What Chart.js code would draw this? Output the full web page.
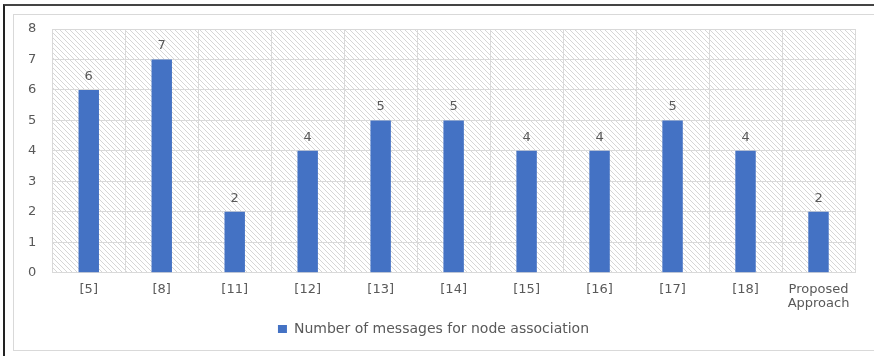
<!DOCTYPE html>
<html>
<head>
<meta charset="utf-8">
<script src="https://cdn.jsdelivr.net/npm/chart.js@4.4.0/dist/chart.umd.min.js"></script>
<style>
  body { margin: 0; background: #fff; }
  #outer { position: absolute; left: 3px; top: 4px; width: 880px; height: 360px;
           border-left: 2px solid #222; border-top: 2px solid #444; }
  #inner { position: absolute; left: 13px; top: 14px; width: 870px; height: 335px;
           border: 1px solid #d9d9d9; }
  #wrap { position: absolute; left: 0; top: 0; width: 874px; height: 356px; }
</style>
</head>
<body>
<div id="outer"></div>
<div id="inner"></div>
<div id="wrap"><canvas id="myChart" width="874" height="356"></canvas></div>
<script>
var categories = ['[5]', '[8]', '[11]', '[12]', '[13]', '[14]', '[15]', '[16]', '[17]', '[18]', ['Proposed', 'Approach']];
var messageCounts = [6, 7, 2, 4, 5, 5, 4, 4, 5, 4, 2];
var yTicks = [0, 1, 2, 3, 4, 5, 6, 7, 8];
var seriesName = 'Number of messages for node association';

var textColor = '#595959';
var fontFamily = '"DejaVu Sans", Verdana, sans-serif';

// diagonal hatch for the plot area
function makeHatch(ctx) {
    var c = document.createElement('canvas');
    c.width = 5; c.height = 5;
    var p = c.getContext('2d');
    p.strokeStyle = '#d6d6d6';
    p.lineWidth = 1;
    p.beginPath();
    p.moveTo(0, 0); p.lineTo(5, 5);
    p.moveTo(-1, 4); p.lineTo(1, 6);
    p.moveTo(4, -1); p.lineTo(6, 1);
    p.stroke();
    return ctx.createPattern(c, 'repeat');
}

var hatchBackground = {
    id: 'hatchBackground',
    beforeDraw: function(chart) {
        var a = chart.chartArea, ctx = chart.ctx;
        ctx.save();
        ctx.fillStyle = makeHatch(ctx);
        ctx.fillRect(a.left, a.top, a.right - a.left, a.bottom - a.top);
        ctx.restore();
    }
};

var barValues = {
    id: 'barValues',
    afterDatasetsDraw: function(chart) {
        var ctx = chart.ctx;
        ctx.save();
        ctx.fillStyle = textColor;
        ctx.font = '13px ' + fontFamily;
        ctx.textAlign = 'center';
        ctx.textBaseline = 'bottom';
        chart.getDatasetMeta(0).data.forEach(function(bar, i) {
            ctx.fillText(messageCounts[i], bar.x, bar.y - 7);
        });
        ctx.restore();
    }
};

var ctx = document.getElementById('myChart').getContext('2d');
var myChart = new Chart(ctx, {
    type: 'bar',
    data: {
        labels: categories,
        datasets: [{
            label: seriesName,
            data: messageCounts,
            backgroundColor: '#4472C4',
            barPercentage: 0.28,
            categoryPercentage: 1
        }]
    },
    options: {
        responsive: false,
        animation: false,
        layout: { padding: { left: 12, right: 19, top: 29, bottom: 10 } },
        plugins: {
            legend: {
                position: 'bottom',
                labels: {
                    color: textColor,
                    font: { family: fontFamily, size: 14 },
                    boxWidth: 9,
                    boxHeight: 8,
                    padding: 2
                }
            },
            tooltip: { enabled: false }
        },
        scales: {
            x: {
                grid: { color: '#d9d9d9', offset: true, drawTicks: false },
                border: { color: '#d9d9d9' },
                ticks: {
                    color: textColor,
                    font: { family: fontFamily, size: 13, lineHeight: 1.05 },
                    padding: 10,
                    maxRotation: 0
                }
            },
            y: {
                min: 0,
                max: 8,
                afterBuildTicks: function(axis) {
                    axis.ticks = yTicks.map(function(v) { return { value: v }; });
                },
                grid: { color: '#d9d9d9', drawTicks: false },
                border: { color: '#d9d9d9' },
                ticks: {
                    color: textColor,
                    font: { family: fontFamily, size: 13 },
                    padding: 16
                }
            }
        }
    },
    plugins: [hatchBackground, barValues]
});
</script>
</body>
</html>
